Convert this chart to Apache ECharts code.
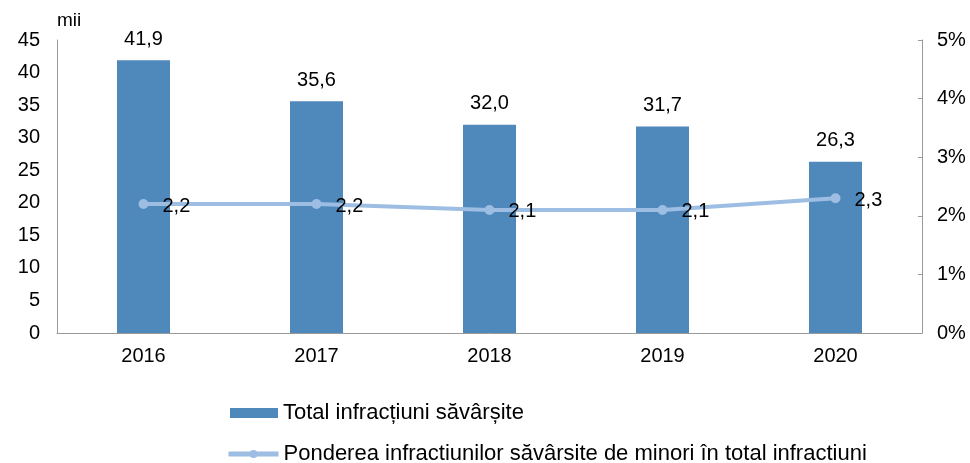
<!DOCTYPE html>
<html>
<head>
<meta charset="utf-8">
<script src="https://cdn.jsdelivr.net/npm/echarts@6/dist/echarts.min.js"></script>
<style>
  html, body { margin: 0; padding: 0; background: #fff; }
  #chart { width: 970px; height: 463px; }
</style>
</head>
<body>
<div id="chart"></div>
<script>
var years = ['2016', '2017', '2018', '2019', '2020'];
var totalInfractiuni = [41.9, 35.6, 32.0, 31.7, 26.3];
var pondereMinori = [2.2, 2.2, 2.1, 2.1, 2.3];
var barName = 'Total infracțiuni săvârșite';
var lineName = 'Ponderea infractiunilor săvârsite de minori în total infractiuni';

function comma(v, d) {
  return v.toFixed(d).replace('.', ',');
}

var font = "'Liberation Sans', Arial, sans-serif";
var fs = 20;
var chart = echarts.init(document.getElementById('chart'));

chart.setOption({
  animation: false,
  textStyle: { fontFamily: font },
  grid: { left: 57, right: 48, top: 40, bottom: 130 },
  legend: [
    {
      left: 225,
      top: 397,
      itemWidth: 48,
      itemHeight: 10,
      textStyle: { fontSize: 22, color: '#000', fontFamily: font },
      data: [{ name: barName, icon: 'rect', itemStyle: { color: '#4f88bb' } }]
    },
    {
      left: 221,
      top: 438,
      itemWidth: 50,
      itemHeight: 10,
      textStyle: { fontSize: 22, color: '#000', fontFamily: font },
      data: [{ name: lineName, lineStyle: { width: 5, color: '#9dbde3' } }]
    }
  ],
  xAxis: {
    type: 'category',
    data: years,
    axisLine: { lineStyle: { color: '#999' } },
    axisTick: { show: false },
    axisLabel: { color: '#000', fontSize: fs, margin: 13 }
  },
  yAxis: [
    {
      type: 'value',
      min: 0, max: 45, interval: 5,
      name: 'mii',
      nameLocation: 'end',
      nameGap: 10,
      nameTextStyle: { color: '#000', fontSize: 19, align: 'left' },
      axisLine: { show: true, lineStyle: { color: '#999' } },
      axisTick: { show: false },
      splitLine: { show: false },
      axisLabel: { color: '#000', fontSize: fs, margin: 17 }
    },
    {
      type: 'value',
      min: 0, max: 5, interval: 1,
      position: 'right',
      axisLine: { show: true, lineStyle: { color: '#999' } },
      axisTick: { show: true, inside: true, length: 4, lineStyle: { color: '#999' } },
      splitLine: { show: false },
      axisLabel: { color: '#000', fontSize: fs, margin: 15, formatter: '{value}%' }
    }
  ],
  series: [
    {
      name: barName,
      type: 'bar',
      data: totalInfractiuni,
      barWidth: 53,
      itemStyle: { color: '#4f88bb' },
      label: {
        show: true,
        position: 'top',
        distance: 11,
        color: '#000',
        fontSize: fs,
        formatter: function (p) { return comma(p.value, 1); }
      }
    },
    {
      name: lineName,
      type: 'line',
      yAxisIndex: 1,
      data: pondereMinori,
      symbol: 'circle',
      symbolSize: 10,
      lineStyle: { color: '#9dbde3', width: 4 },
      itemStyle: { color: '#9dbde3' },
      label: {
        show: true,
        position: 'right',
        distance: 14,
        offset: [0, 2],
        color: '#000',
        fontSize: fs,
        formatter: function (p) { return comma(p.value, 1); }
      }
    }
  ]
});
</script>
</body>
</html>
